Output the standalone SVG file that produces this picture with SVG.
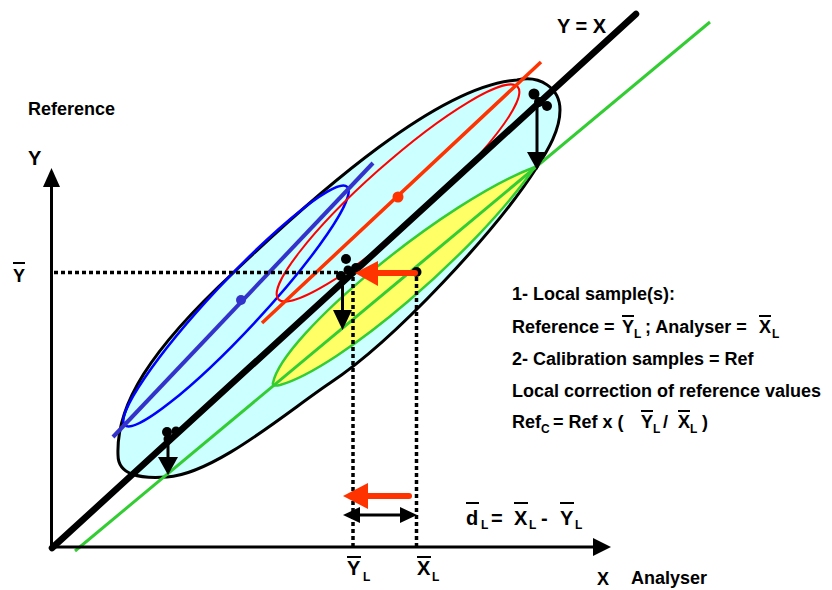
<svg xmlns="http://www.w3.org/2000/svg" width="832" height="590" viewBox="0 0 832 590">
<style>
.t{font-family:"Liberation Sans",Arial,Helvetica,sans-serif;font-weight:bold;fill:#000}
.f18{font-size:18px}
.f20{font-size:20px}
.sub{font-size:12px}
.ov{stroke:#000;stroke-width:2;fill:none}
.dot{stroke:#000;stroke-width:3.5;stroke-dasharray:4 3;fill:none}
.ax{stroke:#000;stroke-width:3;fill:none}
.blk{fill:#000}
.org{fill:#FF3300}
</style>
<rect width="832" height="590" fill="#fff"/>

<g id="cloud-global">
<path d="M118,455 C116,405 150,350 233,273 C320,190 440,85 517,80 C540,75 560,88 560,110 C560,130 548,150 537,167 C497,230 395,340 330,383 C288,411 215,474 167,477 C140,479 118,475 118,455 Z" fill="#CCFFFF" stroke="#000" stroke-width="3"/>
</g>

<g id="cloud-corrected">
<path d="M273,383 C282,335 446,200 535,167 C476,252 340,368 280,385 C276,386 272,386 273,383 Z" fill="#FFFF66" stroke="#33CC33" stroke-width="2.5"/>
</g>

<g id="cloud-blue">
<ellipse cx="236" cy="306" rx="163" ry="25" transform="rotate(-47 236 306)" fill="none" stroke="#0000FF" stroke-width="2.5"/>
</g>

<g id="cloud-red">
<ellipse cx="398" cy="193" rx="160" ry="30" transform="rotate(-41.6 398 193)" fill="none" stroke="#FF0000" stroke-width="2"/>
</g>

<g id="regression-lines">
<line x1="113" y1="437" x2="373" y2="163" stroke="#3333CC" stroke-width="4"/>
<circle cx="241" cy="300" r="5" fill="#3333CC"/>
<line x1="262" y1="323" x2="541" y2="62" stroke="#FF3300" stroke-width="3.5"/>
<circle cx="398" cy="197" r="5.5" fill="#FF3300"/>
<line x1="52" y1="548" x2="636" y2="14" stroke="#000" stroke-width="6.5" stroke-linecap="round"/>
<line x1="75" y1="551" x2="710" y2="22" stroke="#33CC33" stroke-width="3"/>
</g>

<g id="axes">
<line class="ax" x1="51.5" y1="549" x2="51.5" y2="184"/>
<polygon class="blk" points="51.5,168 43,187 60,187"/>
<line class="ax" x1="50" y1="547" x2="596" y2="547"/>
<polygon class="blk" points="611,547 593,538 593,556"/>
</g>

<g id="guides">
<line class="dot" x1="54" y1="272.5" x2="338" y2="272.5"/>
<line class="dot" x1="353" y1="277" x2="353" y2="546"/>
<line class="dot" x1="416.5" y1="277" x2="416.5" y2="546"/>
</g>

<g id="connectors">
<g id="samples-top">
<circle class="blk" cx="534" cy="94" r="5.5"/>
<circle class="blk" cx="539" cy="102" r="5"/>
<circle class="blk" cx="547" cy="106" r="5"/>
<line x1="537" y1="102" x2="537" y2="155" stroke="#000" stroke-width="3"/>
<polygon class="blk" points="527,152 547,152 537,170"/>
</g>
<g id="samples-mid">
<circle class="blk" cx="346" cy="259" r="5"/>
<circle class="blk" cx="356" cy="268" r="5"/>
<circle class="blk" cx="341" cy="276" r="5"/>
<circle class="blk" cx="348" cy="270" r="4.5"/>
<line x1="342.5" y1="276" x2="342.5" y2="312" stroke="#000" stroke-width="3"/>
<polygon class="blk" points="333,310 352,310 342.5,330"/>
</g>
<g id="samples-low">
<circle class="blk" cx="167" cy="432" r="5"/>
<circle class="blk" cx="176" cy="431" r="4.5"/>
<circle class="blk" cx="168" cy="439" r="4.5"/>
<line x1="168" y1="440" x2="168" y2="460" stroke="#000" stroke-width="3"/>
<polygon class="blk" points="158,457 178,457 168,475"/>
</g>
<g id="shift-local">
<circle class="blk" cx="416.5" cy="272" r="5"/>
<line x1="415" y1="273" x2="372" y2="273" stroke="#FF3300" stroke-width="6" stroke-linecap="round"/>
<polygon class="org" points="355,273 378,261 378,286"/>
</g>
<g id="shift-axis">
<line x1="409" y1="496" x2="364" y2="496" stroke="#FF3300" stroke-width="6" stroke-linecap="round"/>
<polygon class="org" points="343,496 368,483 368,509"/>
</g>
<g id="difference">
<line x1="356" y1="515" x2="404" y2="515" stroke="#000" stroke-width="3"/>
<polygon class="blk" points="343,515 360,507 360,523"/>
<polygon class="blk" points="417,515 400,507 400,523"/>
</g>
</g>

<g id="labels">
<text class="t f20" x="557" y="33">Y = X</text>
<text class="t f18" x="28" y="115">Reference</text>
<text class="t f20" x="28" y="165">Y</text>
<text class="t f18" x="13" y="282">Y</text>
<line class="ov" x1="13" y1="263" x2="25" y2="263"/>
<text class="t f18" x="597" y="585">X</text>
<text class="t f18" x="631" y="584">Analyser</text>

<text class="t f20" x="347" y="575">Y</text>
<line class="ov" x1="347" y1="557" x2="361" y2="557"/>
<text class="t sub" x="363" y="581">L</text>
<text class="t f20" x="417" y="575">X</text>
<line class="ov" x1="417" y1="557" x2="431" y2="557"/>
<text class="t sub" x="432" y="581">L</text>

<text class="t f20" x="466" y="525">d</text>
<line class="ov" x1="466" y1="503" x2="479" y2="503"/>
<text class="t sub" x="481" y="529">L</text>
<text class="t f20" x="491" y="525">=</text>
<text class="t f20" x="514" y="525">X</text>
<line class="ov" x1="514" y1="503" x2="528" y2="503"/>
<text class="t sub" x="529" y="529">L</text>
<text class="t f20" x="541" y="525">-</text>
<text class="t f20" x="560" y="525">Y</text>
<line class="ov" x1="560" y1="503" x2="574" y2="503"/>
<text class="t sub" x="575" y="529">L</text>

<text class="t f18" x="512" y="300">1- Local sample(s):</text>
<text class="t f18" x="512" y="333">Reference =</text>
<text class="t f18" x="622" y="333">Y</text>
<line class="ov" x1="622" y1="316" x2="634" y2="316"/>
<text class="t sub" x="634" y="338">L</text>
<text class="t f18" x="645" y="333">; Analyser =</text>
<text class="t f18" x="759" y="333">X</text>
<line class="ov" x1="759" y1="316" x2="771" y2="316"/>
<text class="t sub" x="772" y="338">L</text>
<text class="t f18" x="512" y="365">2- Calibration samples = Ref</text>
<text class="t f18" x="512" y="397">Local correction of reference values</text>
<text class="t f18" x="512" y="428">Ref</text>
<text class="t sub" x="541" y="433">C</text>
<text class="t f18" x="553" y="428">= Ref  x (</text>
<text class="t f18" x="641" y="428">Y</text>
<line class="ov" x1="641" y1="411" x2="653" y2="411"/>
<text class="t sub" x="653" y="433">L</text>
<text class="t f18" x="663" y="428">/</text>
<text class="t f18" x="678" y="428">X</text>
<line class="ov" x1="678" y1="411" x2="690" y2="411"/>
<text class="t sub" x="690" y="433">L</text>
<text class="t f18" x="702" y="428">)</text>
</g>
</svg>
